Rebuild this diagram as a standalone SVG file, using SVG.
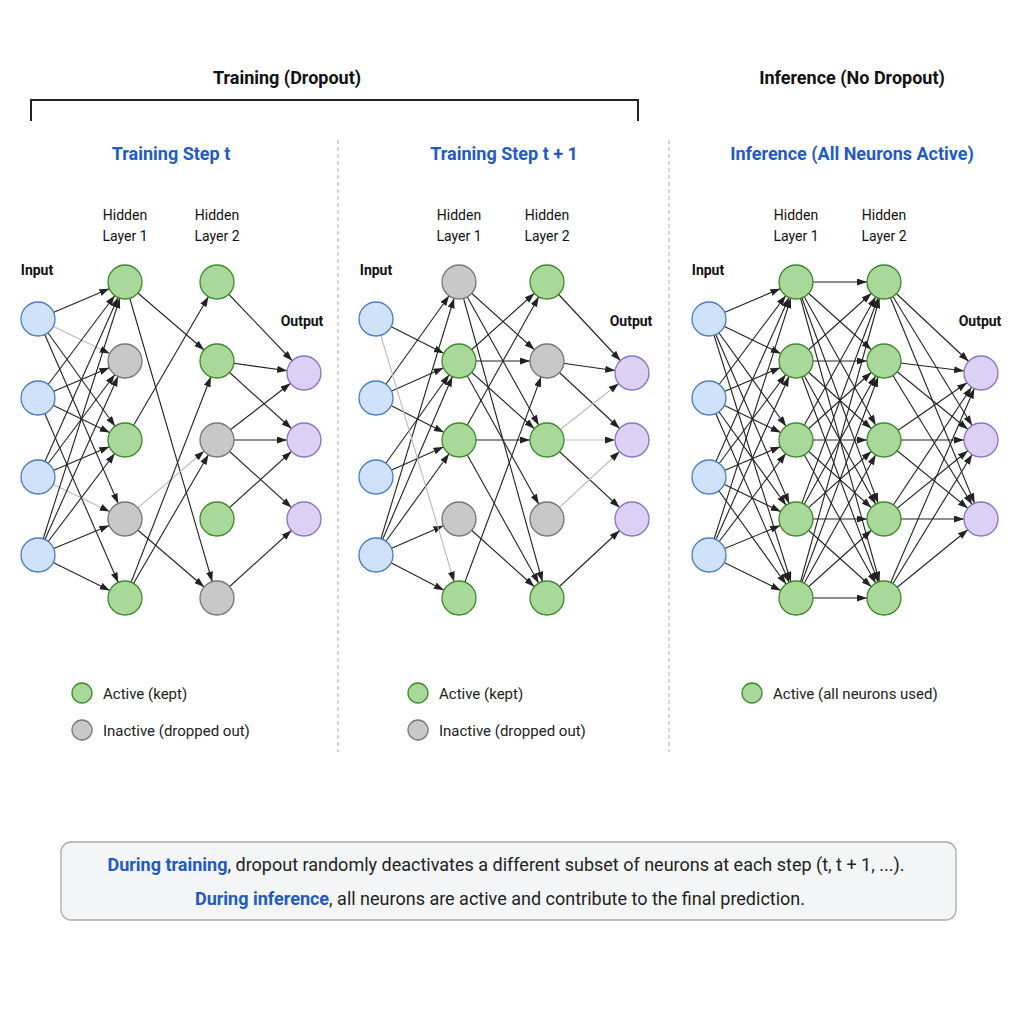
<svg xmlns="http://www.w3.org/2000/svg" width="1024" height="1024" viewBox="0 0 1024 1024">
<style>
text{font-family:Roboto,"Liberation Sans",sans-serif;fill:#111}
.h{font-size:18px;font-weight:bold}
.s{font-size:18px;font-weight:bold;fill:#1f5bc6}
.l{font-size:14px}
.b{font-size:14px;font-weight:bold}
.g{font-size:15px;fill:#222}
.c line{stroke:#222;stroke-width:1.1;marker-end:url(#a)}
.c line.f{stroke:#bbb}
.in{fill:#cfe2fa;stroke:#4a7ec4;stroke-width:1.3}
.on{fill:#a8d99a;stroke:#3d8a2b;stroke-width:1.3}
.off{fill:#c8c8c8;stroke:#777;stroke-width:1.3}
.out{fill:#ddd0f5;stroke:#8a74c0;stroke-width:1.3}
.div{stroke:#aaa;stroke-dasharray:4 3}
.bt{font-size:18px;fill:#222}
</style>
<defs><marker id="a" markerUnits="userSpaceOnUse" markerWidth="12" markerHeight="8" refX="27" refY="3.5" orient="auto"><path d="M0,0L10,3.5L0,7z" fill="#222"/></marker></defs>
<rect width="1024" height="1024" fill="#fff"/>
<text class="h" x="287" y="84" text-anchor="middle">Training (Dropout)</text>
<text class="h" x="852" y="84" text-anchor="middle">Inference (No Dropout)</text>
<path d="M31,121V100H638V121" fill="none" stroke="#222" stroke-width="2"/>
<line class="div" x1="338" y1="140" x2="338" y2="752"/>
<line class="div" x1="669" y1="140" x2="669" y2="752"/>
<text class="s" x="171" y="160" text-anchor="middle">Training Step t</text>
<text class="s" x="504" y="160" text-anchor="middle">Training Step t + 1</text>
<text class="s" x="852" y="160" text-anchor="middle">Inference (All Neurons Active)</text>
<g text-anchor="middle">
<text class="l" x="125" y="220">Hidden</text><text class="l" x="125" y="241">Layer 1</text>
<text class="l" x="217" y="220">Hidden</text><text class="l" x="217" y="241">Layer 2</text>
<text class="l" x="459" y="220">Hidden</text><text class="l" x="459" y="241">Layer 1</text>
<text class="l" x="547" y="220">Hidden</text><text class="l" x="547" y="241">Layer 2</text>
<text class="l" x="796" y="220">Hidden</text><text class="l" x="796" y="241">Layer 1</text>
<text class="l" x="884" y="220">Hidden</text><text class="l" x="884" y="241">Layer 2</text>
<text class="b" x="37" y="275">Input</text><text class="b" x="302" y="326">Output</text>
<text class="b" x="376" y="275">Input</text><text class="b" x="631" y="326">Output</text>
<text class="b" x="708" y="275">Input</text><text class="b" x="980" y="326">Output</text>
</g>
<g id="connectors" class="c">
<!-- panel 1 input->H1 -->
<line x1="38" y1="319" x2="125" y2="282"/><line x1="38" y1="319" x2="125" y2="361" class="f"/><line x1="38" y1="319" x2="125" y2="440"/><line x1="38" y1="319" x2="125" y2="519"/>
<line x1="38" y1="398" x2="125" y2="282"/><line x1="38" y1="398" x2="125" y2="361"/><line x1="38" y1="398" x2="125" y2="440"/><line x1="38" y1="398" x2="125" y2="598"/>
<line x1="38" y1="477" x2="125" y2="361"/><line x1="38" y1="477" x2="125" y2="440"/><line x1="38" y1="477" x2="125" y2="519" class="f"/><line x1="38" y1="477" x2="125" y2="282"/>
<line x1="38" y1="555" x2="125" y2="282"/><line x1="38" y1="555" x2="125" y2="361"/><line x1="38" y1="555" x2="125" y2="440"/><line x1="38" y1="555" x2="125" y2="519"/><line x1="38" y1="555" x2="125" y2="598"/>
<!-- H1->H2 -->
<line x1="125" y1="282" x2="217" y2="361"/><line x1="125" y1="282" x2="217" y2="598"/><line x1="125" y1="440" x2="217" y2="282"/><line x1="125" y1="519" x2="217" y2="598"/><line x1="125" y1="519" x2="217" y2="440" class="f"/><line x1="125" y1="598" x2="217" y2="361"/><line x1="125" y1="598" x2="217" y2="440"/>
<!-- H2->O -->
<line x1="217" y1="282" x2="304" y2="373"/><line x1="217" y1="361" x2="304" y2="373"/><line x1="217" y1="361" x2="304" y2="440"/><line x1="217" y1="440" x2="304" y2="373"/><line x1="217" y1="440" x2="304" y2="440"/><line x1="217" y1="440" x2="304" y2="519"/><line x1="217" y1="519" x2="304" y2="440"/><line x1="217" y1="598" x2="304" y2="519"/>
<!-- panel 2 -->
<line x1="376" y1="319" x2="459" y2="361"/><line x1="376" y1="398" x2="459" y2="282"/><line x1="376" y1="398" x2="459" y2="361"/><line x1="376" y1="398" x2="459" y2="440"/><line x1="376" y1="477" x2="459" y2="361"/><line x1="376" y1="477" x2="459" y2="440"/><line x1="376" y1="555" x2="459" y2="282"/><line x1="376" y1="555" x2="459" y2="361"/><line x1="376" y1="555" x2="459" y2="440"/><line x1="376" y1="555" x2="459" y2="519"/><line x1="376" y1="555" x2="459" y2="598"/><line x1="376" y1="319" x2="459" y2="598" class="f"/>
<line x1="459" y1="282" x2="547" y2="361"/><line x1="459" y1="282" x2="547" y2="440"/><line x1="459" y1="282" x2="547" y2="598"/><line x1="459" y1="361" x2="547" y2="282"/><line x1="459" y1="361" x2="547" y2="361"/><line x1="459" y1="361" x2="547" y2="440"/><line x1="459" y1="361" x2="547" y2="519"/><line x1="459" y1="440" x2="547" y2="282"/><line x1="459" y1="440" x2="547" y2="440"/><line x1="459" y1="440" x2="547" y2="598"/><line x1="459" y1="519" x2="547" y2="598"/><line x1="459" y1="598" x2="547" y2="361"/>
<line x1="547" y1="282" x2="632" y2="373"/><line x1="547" y1="361" x2="632" y2="373"/><line x1="547" y1="361" x2="632" y2="440"/><line x1="547" y1="440" x2="632" y2="373" class="f"/><line x1="547" y1="440" x2="632" y2="440" class="f"/><line x1="547" y1="440" x2="632" y2="519"/><line x1="547" y1="519" x2="632" y2="440" class="f"/><line x1="547" y1="598" x2="632" y2="519"/>
<!-- panel 3 full -->
<line x1="709" y1="319" x2="796" y2="282"/><line x1="709" y1="319" x2="796" y2="361"/><line x1="709" y1="319" x2="796" y2="440"/><line x1="709" y1="319" x2="796" y2="519"/><line x1="709" y1="319" x2="796" y2="598"/>
<line x1="709" y1="398" x2="796" y2="282"/><line x1="709" y1="398" x2="796" y2="361"/><line x1="709" y1="398" x2="796" y2="440"/><line x1="709" y1="398" x2="796" y2="519"/><line x1="709" y1="398" x2="796" y2="598"/>
<line x1="709" y1="477" x2="796" y2="282"/><line x1="709" y1="477" x2="796" y2="361"/><line x1="709" y1="477" x2="796" y2="440"/><line x1="709" y1="477" x2="796" y2="519"/><line x1="709" y1="477" x2="796" y2="598"/>
<line x1="709" y1="555" x2="796" y2="282"/><line x1="709" y1="555" x2="796" y2="361"/><line x1="709" y1="555" x2="796" y2="440"/><line x1="709" y1="555" x2="796" y2="519"/><line x1="709" y1="555" x2="796" y2="598"/>
<line x1="796" y1="282" x2="884" y2="282"/><line x1="796" y1="282" x2="884" y2="361"/><line x1="796" y1="282" x2="884" y2="440"/><line x1="796" y1="282" x2="884" y2="519"/><line x1="796" y1="282" x2="884" y2="598"/>
<line x1="796" y1="361" x2="884" y2="282"/><line x1="796" y1="361" x2="884" y2="361"/><line x1="796" y1="361" x2="884" y2="440"/><line x1="796" y1="361" x2="884" y2="519"/><line x1="796" y1="361" x2="884" y2="598"/>
<line x1="796" y1="440" x2="884" y2="282"/><line x1="796" y1="440" x2="884" y2="361"/><line x1="796" y1="440" x2="884" y2="440"/><line x1="796" y1="440" x2="884" y2="519"/><line x1="796" y1="440" x2="884" y2="598"/>
<line x1="796" y1="519" x2="884" y2="282"/><line x1="796" y1="519" x2="884" y2="361"/><line x1="796" y1="519" x2="884" y2="440"/><line x1="796" y1="519" x2="884" y2="519"/><line x1="796" y1="519" x2="884" y2="598"/>
<line x1="796" y1="598" x2="884" y2="282"/><line x1="796" y1="598" x2="884" y2="361"/><line x1="796" y1="598" x2="884" y2="440"/><line x1="796" y1="598" x2="884" y2="519"/><line x1="796" y1="598" x2="884" y2="598"/>
<line x1="884" y1="282" x2="981" y2="373"/><line x1="884" y1="282" x2="981" y2="440"/><line x1="884" y1="282" x2="981" y2="519"/>
<line x1="884" y1="361" x2="981" y2="373"/><line x1="884" y1="361" x2="981" y2="440"/><line x1="884" y1="361" x2="981" y2="519"/>
<line x1="884" y1="440" x2="981" y2="373"/><line x1="884" y1="440" x2="981" y2="440"/><line x1="884" y1="440" x2="981" y2="519"/>
<line x1="884" y1="519" x2="981" y2="373"/><line x1="884" y1="519" x2="981" y2="440"/><line x1="884" y1="519" x2="981" y2="519"/>
<line x1="884" y1="598" x2="981" y2="373"/><line x1="884" y1="598" x2="981" y2="440"/><line x1="884" y1="598" x2="981" y2="519"/>
</g>
<g id="p1-nodes">
<circle class="in" cx="38" cy="319" r="17"/><circle class="in" cx="38" cy="398" r="17"/><circle class="in" cx="38" cy="477" r="17"/><circle class="in" cx="38" cy="555" r="17"/>
<circle class="on" cx="125" cy="282" r="17"/><circle class="off" cx="125" cy="361" r="17"/><circle class="on" cx="125" cy="440" r="17"/><circle class="off" cx="125" cy="519" r="17"/><circle class="on" cx="125" cy="598" r="17"/>
<circle class="on" cx="217" cy="282" r="17"/><circle class="on" cx="217" cy="361" r="17"/><circle class="off" cx="217" cy="440" r="17"/><circle class="on" cx="217" cy="519" r="17"/><circle class="off" cx="217" cy="598" r="17"/>
<circle class="out" cx="304" cy="373" r="17"/><circle class="out" cx="304" cy="440" r="17"/><circle class="out" cx="304" cy="519" r="17"/>
</g>
<g id="p2-nodes">
<circle class="in" cx="376" cy="319" r="17"/><circle class="in" cx="376" cy="398" r="17"/><circle class="in" cx="376" cy="477" r="17"/><circle class="in" cx="376" cy="555" r="17"/>
<circle class="off" cx="459" cy="282" r="17"/><circle class="on" cx="459" cy="361" r="17"/><circle class="on" cx="459" cy="440" r="17"/><circle class="off" cx="459" cy="519" r="17"/><circle class="on" cx="459" cy="598" r="17"/>
<circle class="on" cx="547" cy="282" r="17"/><circle class="off" cx="547" cy="361" r="17"/><circle class="on" cx="547" cy="440" r="17"/><circle class="off" cx="547" cy="519" r="17"/><circle class="on" cx="547" cy="598" r="17"/>
<circle class="out" cx="632" cy="373" r="17"/><circle class="out" cx="632" cy="440" r="17"/><circle class="out" cx="632" cy="519" r="17"/>
</g>
<g id="p3-nodes">
<circle class="in" cx="709" cy="319" r="17"/><circle class="in" cx="709" cy="398" r="17"/><circle class="in" cx="709" cy="477" r="17"/><circle class="in" cx="709" cy="555" r="17"/>
<circle class="on" cx="796" cy="282" r="17"/><circle class="on" cx="796" cy="361" r="17"/><circle class="on" cx="796" cy="440" r="17"/><circle class="on" cx="796" cy="519" r="17"/><circle class="on" cx="796" cy="598" r="17"/>
<circle class="on" cx="884" cy="282" r="17"/><circle class="on" cx="884" cy="361" r="17"/><circle class="on" cx="884" cy="440" r="17"/><circle class="on" cx="884" cy="519" r="17"/><circle class="on" cx="884" cy="598" r="17"/>
<circle class="out" cx="981" cy="373" r="17"/><circle class="out" cx="981" cy="440" r="17"/><circle class="out" cx="981" cy="519" r="17"/>
</g>
<g id="legends">
<circle class="on" cx="82" cy="693" r="10"/><text class="g" x="103" y="699">Active (kept)</text>
<circle class="off" cx="82" cy="730" r="10"/><text class="g" x="103" y="736">Inactive (dropped out)</text>
<circle class="on" cx="418" cy="693" r="10"/><text class="g" x="439" y="699">Active (kept)</text>
<circle class="off" cx="418" cy="730" r="10"/><text class="g" x="439" y="736">Inactive (dropped out)</text>
<circle class="on" cx="752" cy="693" r="10"/><text class="g" x="773" y="699">Active (all neurons used)</text>
</g>
<g id="note">
<rect x="61" y="842" width="895" height="78" rx="10" fill="#f4f5f6" stroke="#aaa" stroke-width="1.3"/>
<text class="bt" x="506" y="871" text-anchor="middle"><tspan font-weight="bold" fill="#1f5bc6">During training</tspan>, dropout randomly deactivates a different subset of neurons at each step (t, t + 1, ...).</text>
<text class="bt" x="500" y="905" text-anchor="middle"><tspan font-weight="bold" fill="#1f5bc6">During inference</tspan>, all neurons are active and contribute to the final prediction.</text>
</g>
</svg>
